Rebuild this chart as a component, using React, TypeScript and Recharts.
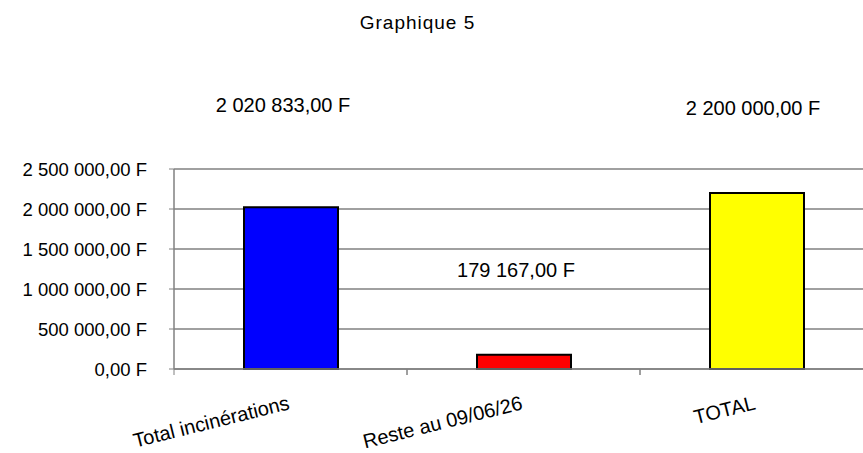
import { BarChart, Bar, XAxis, YAxis, CartesianGrid, Cell, LabelList } from 'recharts';

const categories = ['Total incinérations', 'Reste au 09/06/26', 'TOTAL'];
const amounts = [2020833, 179167, 2200000];
const barColors = ['#0000FF', '#FF0000', '#FFFF00'];
const yTicks = [0, 500000, 1000000, 1500000, 2000000, 2500000];

// Excel placed the value labels a bit off the bars; keep that offset
const labelShift = [
  { dx: -8, dy: -95 },
  { dx: -8, dy: -78 },
  { dx: -4, dy: -78 },
];

const data = categories.map((name, i) => ({ name, value: amounts[i], color: barColors[i] }));

const CHART_W = 880;
const PLOT_LEFT = 174;
const PLOT_RIGHT_MARGIN = 7;
const BAND = (CHART_W - PLOT_LEFT - PLOT_RIGHT_MARGIN) / categories.length;

const fmt = (v: number) => {
  const [int, dec] = v.toFixed(2).split('.');
  return `${int.replace(/\B(?=(\d{3})+(?!\d))/g, ' ')},${dec} F`;
};

const font = 'Arial, "Liberation Sans", sans-serif';

const XTick = (props: any) => {
  const { x, y, payload } = props;
  const axisY = y - 8;
  return (
    <g>
      <line x1={x - BAND / 2} y1={axisY} x2={x - BAND / 2} y2={axisY + 6} stroke="#808080" />
      <line x1={x + BAND / 2} y1={axisY} x2={x + BAND / 2} y2={axisY + 6} stroke="#808080" />
      <text
        x={x}
        y={axisY + 40}
        textAnchor="end"
        fontSize={20}
        fontFamily={font}
        fill="#000"
        transform={`rotate(-14 ${x} ${axisY + 40})`}
      >
        {payload.value}
      </text>
    </g>
  );
};

const ValueLabel = (props: any) => {
  const { x, y, width, value, index } = props;
  const s = labelShift[index];
  return (
    <text
      x={x + width / 2 + s.dx}
      y={y + s.dy}
      textAnchor="middle"
      fontSize={20}
      fontFamily={font}
      fill="#000"
    >
      {fmt(value)}
    </text>
  );
};

export default function App() {
  return (
    <div style={{ position: 'absolute', left: 0, top: 0, width: 863, height: 453, overflow: 'hidden', background: '#fff' }}>
      <div
        style={{
          position: 'absolute',
          top: 13,
          left: 0,
          width: 835,
          textAlign: 'center',
          fontFamily: font,
          fontSize: 19,
          letterSpacing: 1,
          lineHeight: '19px',
        }}
      >
        Graphique 5
      </div>
      <BarChart
        width={CHART_W}
        height={453}
        data={data}
        margin={{ top: 169, right: PLOT_RIGHT_MARGIN, bottom: 24, left: 0 }}
      >
        <CartesianGrid vertical={false} stroke="#808080" strokeWidth={1.5} />
        <XAxis
          dataKey="name"
          height={60}
          axisLine={{ stroke: '#808080', strokeWidth: 1.5 }}
          tickLine={false}
          interval={0}
          tick={<XTick />}
        />
        <YAxis
          width={PLOT_LEFT}
          domain={[0, 2500000]}
          ticks={yTicks}
          tickFormatter={fmt}
          axisLine={{ stroke: '#808080', strokeWidth: 1.5 }}
          tickLine={{ stroke: '#808080' }}
          tickSize={5}
          tickMargin={22}
          tick={{ fill: '#000', fontSize: 18.5, fontFamily: font }}
        />
        <Bar dataKey="value" barSize={94} stroke="#000" strokeWidth={2} isAnimationActive={false}>
          {data.map((d) => (
            <Cell key={d.name} fill={d.color} />
          ))}
          <LabelList dataKey="value" content={<ValueLabel />} />
        </Bar>
      </BarChart>
    </div>
  );
}
